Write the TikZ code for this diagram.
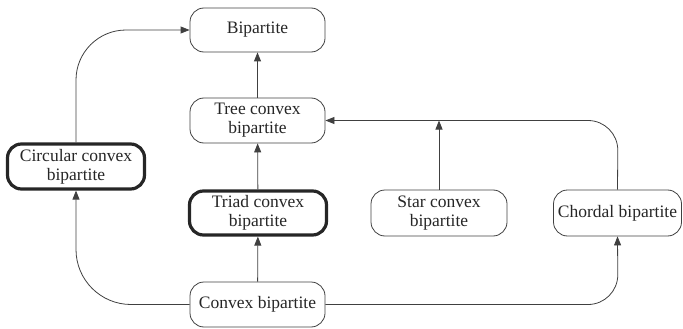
\documentclass[tikz,border=0pt]{standalone}
\usepackage{fontspec}
\setmainfont{Liberation Serif}
\usetikzlibrary{arrows.meta}
\begin{document}
\begin{tikzpicture}[x=1pt,y=-1pt,
  box/.style={draw=black!75,line width=0.8pt,rounded corners=14pt,align=center,
    font=\fontsize{17.5}{19}\selectfont,inner sep=0pt,text=black!85},
  thickbox/.style={box,draw=black!85,line width=3.2pt},
  conn/.style={draw=black!75,line width=0.8pt},
  arr/.style={conn,-{Triangle[length=9pt,width=7pt]}}]
\useasboundingbox (0,0) rectangle (683,329);
\node[box,minimum width=135pt,minimum height=44pt] (bip) at (257.5,30) {Bipartite};
\node[box,minimum width=135pt,minimum height=45pt] (tree) at (257.5,120.5) {Tree convex\\bipartite};
\node[thickbox,minimum width=137pt,minimum height=44pt] (triad) at (258,213) {Triad convex\\bipartite};
\node[box,minimum width=135pt,minimum height=45pt] (convex) at (257.5,304.5) {Convex bipartite};
\node[thickbox,minimum width=137pt,minimum height=45pt] (circ) at (76,166.5) {Circular convex\\bipartite};
\node[box,minimum width=136pt,minimum height=46pt] (star) at (439,213) {Star convex\\bipartite};
\node[box,minimum width=128pt,minimum height=46pt] (chord) at (617.5,213) {Chordal bipartite};
\coordinate (j) at (439,120.5);
\draw[arr] (tree) -- (bip);
\draw[arr] (triad) -- (tree);
\draw[arr] (convex) -- (triad);
\draw[arr,rounded corners=50pt] (circ.north) -- (76,30) -- (bip.west);
\draw[arr,rounded corners=55pt] (convex.west) -- (76,304.5) -- (circ.south);
\draw[arr,rounded corners=30pt] (convex.east) -- (618,304.5) -- (chord.south);
\draw[arr,rounded corners=30pt] (chord.north) -- (618,120.5) -- (tree.east);
\draw[arr] (star.north) -- (j);
\end{tikzpicture}
\end{document}
